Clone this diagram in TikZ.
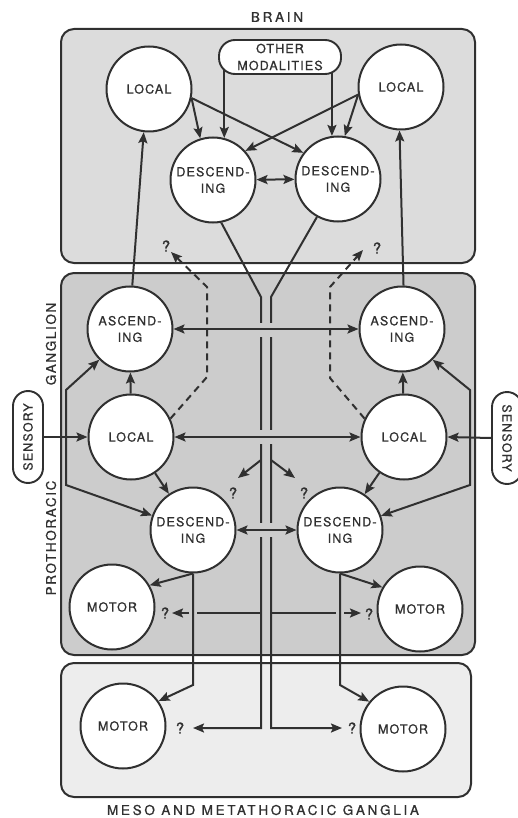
\documentclass[tikz,border=0pt]{standalone}
\usepackage{fontspec}
\setmainfont[FakeBold=0.8]{TeX Gyre Heros}
\newfontfamily\cellfont[LetterSpace=9,FakeBold=0.8]{TeX Gyre Heros}
\newfontfamily\lblfont[LetterSpace=20,FakeBold=0.8]{TeX Gyre Heros}
\newfontfamily\sidefont[LetterSpace=12,FakeBold=0.8]{TeX Gyre Heros}
\usetikzlibrary{arrows.meta}
\definecolor{ink}{HTML}{303030}
\definecolor{brainfill}{HTML}{DCDCDC}
\definecolor{profill}{HTML}{CCCCCC}
\definecolor{mesofill}{HTML}{EDEDED}
\pgfdeclarelayer{bg}
\pgfsetlayers{bg,main}
\begin{document}
\begin{tikzpicture}[x=1pt,y=-1pt,
  every node/.style={text=ink},
  cell/.style={circle,draw=ink,fill=white,line width=2pt,minimum size=85pt,inner sep=0pt,align=center,font=\cellfont\fontsize{12.5}{16.5}\selectfont},
  pill/.style={rounded corners=15pt,draw=ink,fill=white,line width=1.9pt,align=center,inner sep=0pt,font=\cellfont\fontsize{12.5}{17}\selectfont},
  region/.style={draw=ink,line width=2pt,rounded corners=13pt},
  ln/.style={draw=ink,line width=2pt},
  arr/.style={ln,-{Stealth[length=11pt,width=9pt,inset=2pt]}},
  darr/.style={ln,{Stealth[length=11pt,width=9pt,inset=2pt]}-{Stealth[length=11pt,width=9pt,inset=2pt]}},
  dsh/.style={dash pattern=on 7pt off 5pt},
  qm/.style={font=\fontsize{15}{15}\selectfont,inner sep=0pt},
  lbl/.style={font=\lblfont\fontsize{13.5}{13.5}\selectfont,inner sep=0pt},
  side/.style={font=\sidefont\fontsize{13.5}{13.5}\selectfont,inner sep=0pt,rotate=90},
]
\useasboundingbox (0,0) rectangle (518,818);

% ---------- nodes ----------
\node[cell] (LocBL) at (149,89) {LOCAL};
\node[cell] (LocBR) at (401,87) {LOCAL};
\node[cell] (DescBL) at (213,180) {DESCEND-\\ING};
\node[cell] (DescBR) at (338,179) {DESCEND-\\ING};
\node[pill,rounded corners=16pt,minimum width=122pt,minimum height=34pt] (OM) at (280,57) {OTHER\\MODALITIES};

\node[cell] (AscL) at (130,329) {ASCEND-\\ING};
\node[cell] (AscR) at (402,329) {ASCEND-\\ING};
\node[cell] (LocL) at (131,437) {LOCAL};
\node[cell] (LocR) at (404,437) {LOCAL};
\node[cell] (DescL) at (193,530) {DESCEND-\\ING};
\node[cell] (DescR) at (340,530) {DESCEND-\\ING};
\node[cell] (MotL) at (112,607) {MOTOR};
\node[cell] (MotR) at (420,609) {MOTOR};
\node[cell] (mMotL) at (123,726) {MOTOR};
\node[cell] (mMotR) at (403,729) {MOTOR};

\node[pill,rotate=90,minimum width=92pt,minimum height=30pt] (SenL) at (28,437) {SENSORY};
\node[pill,rotate=-90,minimum width=92pt,minimum height=30pt] (SenR) at (507,438) {SENSORY};

\node[lbl] (brainlbl) at (277,17) {BRAIN};
\node[lbl] (mesolbl) at (263,810) {MESO AND METATHORACIC GANGLIA};
\node[side] (ganglbl) at (51,344) {GANGLION};
\node[side] (prolbl) at (51,538) {PROTHORACIC};

\node[qm] (qDL) at (166,246) {?};
\node[qm] (qDR) at (377,248) {?};
\node[qm] (qBL) at (233,493) {?};
\node[qm] (qBR) at (304,493) {?};
\node[qm] (qPL) at (165,613) {?};
\node[qm] (qPR) at (369,614) {?};
\node[qm] (qML) at (180,728) {?};
\node[qm] (qMR) at (352,728) {?};

% ---------- coordinates ----------
\coordinate (tL0) at (261,297);
\coordinate (tR0) at (271,297);
\coordinate (tLb) at (261,728);
\coordinate (tRb) at (271,728);
\coordinate (mL) at (193,728);
\coordinate (mR) at (342,728);
\coordinate (bL0) at (261,460);
\coordinate (bL1) at (238,478);
\coordinate (bR0) at (271,460);
\coordinate (bR1) at (295,478);
\coordinate (hL0) at (261,613);
\coordinate (hL1) at (197,613);
\coordinate (hL2) at (189,613);
\coordinate (hL3) at (172,613);
\coordinate (hR0) at (271,613);
\coordinate (hR1) at (336,613);
\coordinate (hR2) at (344,613);
\coordinate (hR3) at (361,613);
\coordinate (vL) at (193,685);
\coordinate (vR) at (340,685);
\coordinate (jL) at (66,437);
\coordinate (jLt) at (66,390);
\coordinate (jLb) at (66,485);
\coordinate (jR) at (470,437);
\coordinate (jRt) at (470,390);
\coordinate (jRb) at (470,485);
\coordinate (dL1) at (207,377);
\coordinate (dL2) at (207,287);
\coordinate (dL3) at (171,252);
\coordinate (dR1) at (330,378);
\coordinate (dR2) at (330,287);
\coordinate (dR3) at (363,250);

% ---------- regions (background) ----------
\begin{pgfonlayer}{bg}
\draw[region,fill=brainfill] (61,29) rectangle (475,263);
\draw[region,fill=profill] (61,273) rectangle (475,655);
\draw[region,fill=mesofill] (61,663) rectangle (471,797);
\draw[arr] (DescBL.75 |- OM.center) -- (DescBL.75);
\draw[arr] (DescBR.98 |- OM.center) -- (DescBR.98);
\end{pgfonlayer}

% ---------- brain connectors ----------
\draw[arr] (LocBL.348) -- (DescBL.107);
\draw[arr] (LocBL.348) -- (DescBR.143);
\draw[arr] (LocBR.190) -- (DescBL.42);
\draw[arr] (LocBR.190) -- (DescBR.81);
\draw[darr] (DescBL) -- (DescBR);

% ascending to brain
\draw[arr] (AscL.87) -- (LocBL.263);
\draw[arr] (AscR.88) -- (LocBR.268);

% descending tube
\draw[arr] (DescBL.281) -- (tL0) -- (tLb) -- (mL);
\draw[arr] (DescBR.241) -- (tR0) -- (tRb) -- (mR);
\fill[profill] (257,323) rectangle (275,337);
\fill[profill] (257,430) rectangle (275,444);
\fill[profill] (257,523) rectangle (275,537);
\draw[arr] (bL0) -- (bL1);
\draw[arr] (bR0) -- (bR1);
\draw[ln] (hL0) -- (hL1);
\draw[arr] (hL2) -- (hL3);
\draw[ln] (hR0) -- (hR1);
\draw[arr] (hR2) -- (hR3);

% prothoracic connectors
\draw[darr] (AscL) -- (AscR);
\draw[darr] (LocL) -- (LocR);
\draw[darr] (DescL) -- (DescR);
\draw[arr] (LocL) -- (AscL);
\draw[arr] (LocR) -- (AscR);
\draw[arr] (LocL) -- (DescL);
\draw[arr] (LocR) -- (DescR);
\draw[arr] (SenL.south) -- (LocL.west);
\draw[arr] (SenR.south) -- (LocR.east);
\draw[arr] (jL) -- (jLt) -- (AscL.225);
\draw[arr] (jL) -- (jLb) -- (DescL);
\draw[arr] (jR) -- (jRt) -- (AscR.315);
\draw[arr] (jR) -- (jRb) -- (DescR);
\draw[arr,dsh] (LocL.25) -- (dL1) -- (dL2) -- (dL3);
\draw[arr,dsh] (LocR.155) -- (dR1) -- (dR2) -- (dR3);

% motor connectors
\draw[arr] (DescL.south) -- (MotL.30);
\draw[arr] (DescL.south) -- (vL) -- (mMotL.35);
\draw[arr] (DescR.south) -- (MotR.150);
\draw[arr] (DescR.south) -- (vR) -- (mMotR.141);
\end{tikzpicture}
\end{document}
